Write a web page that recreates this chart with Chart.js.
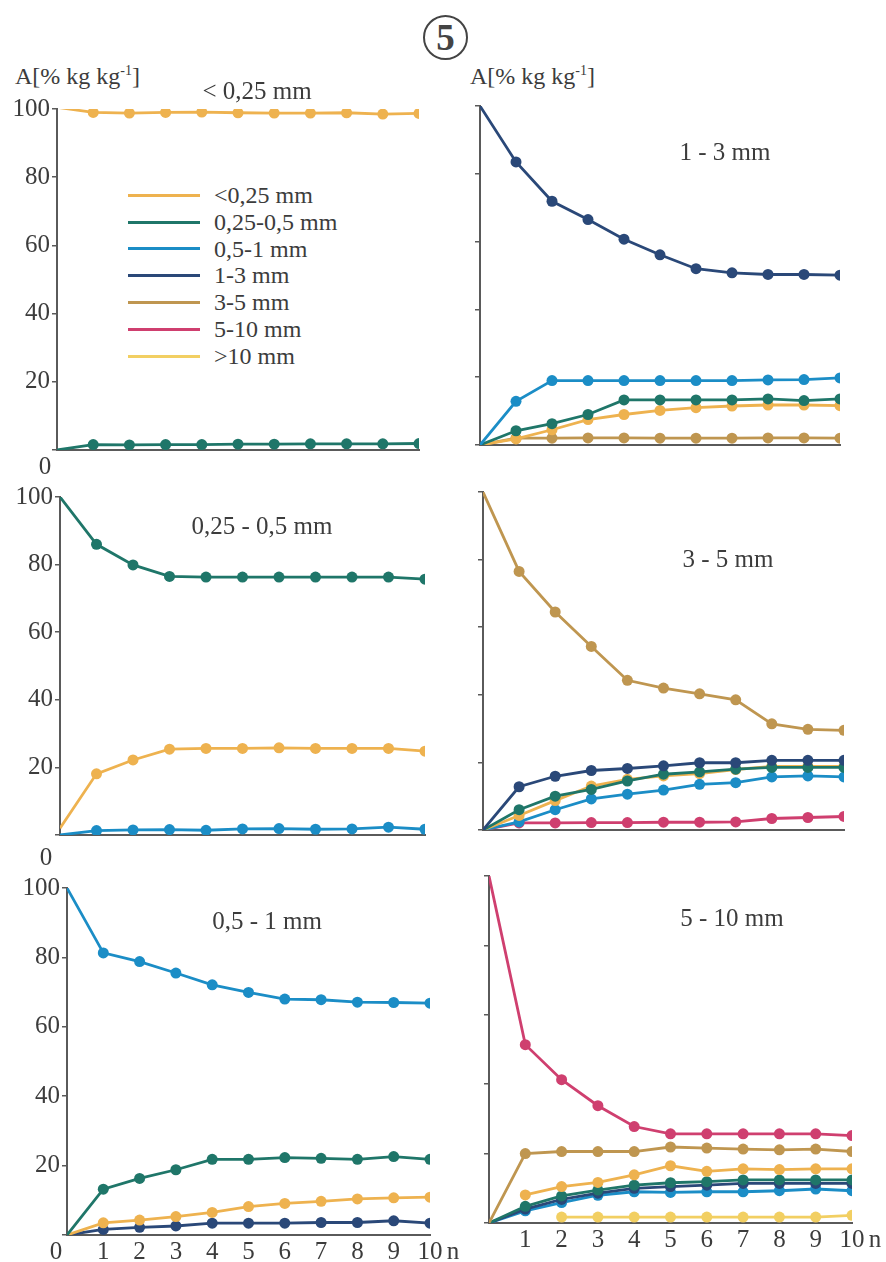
<!DOCTYPE html>
<html lang="pl">
<head>
<meta charset="UTF-8">
<title>Rozpad agregatów</title>
<script src="https://cdn.jsdelivr.net/npm/chart.js@4"></script>
<style>
  body { margin: 0; background: #fff; }
  #page { position: relative; width: 886px; height: 1262px; overflow: hidden;
          font-family: "Liberation Serif", "DejaVu Serif", serif; color: #3c3c3c; }
  #page canvas { position: absolute; }
  .txt { position: absolute; white-space: nowrap; font-size: 25px; line-height: 1;
         transform: translate(-50%, -50%); }
  .ylab { position: absolute; white-space: nowrap; font-size: 24px; line-height: 1; }
  .ylab sup { font-size: 14px; vertical-align: 9px; }
  #num { position: absolute; left: 423px; top: 15px; width: 41px; height: 41px;
         border: 2.5px solid #444; border-radius: 50%; text-align: center;
         font: bold 37px/41px "Liberation Serif", serif; color: #444; }
  #legend { position: absolute; left: 128px; top: 182px; }
  #legend div { height: 26.8px; display: flex; align-items: center; font-size: 24px; }
  #legend span.sw { display: inline-block; width: 72px; height: 3px; margin-right: 14px; }
</style>
</head>
<body>
<div id="page">
  <div id="num">5</div>
  <div class="ylab" style="left:15px; top:64px">A[% kg kg<sup>-1</sup>]</div>
  <div class="ylab" style="left:470px; top:64px">A[% kg kg<sup>-1</sup>]</div>
  <div id="legend"></div>
</div>
<script>
// cycles of wetting / drying
const steps = [0, 1, 2, 3, 4, 5, 6, 7, 8, 9, 10];
const yTicks = [0, 20, 40, 60, 80, 100];

const classNames = ['<0,25 mm', '0,25-0,5 mm', '0,5-1 mm', '1-3 mm', '3-5 mm', '5-10 mm', '>10 mm'];
const classColors = ['#eeb24f', '#1f7669', '#1b8dc6', '#2a4878', '#bf9650', '#cf3f6f', '#f2cf62'];

// panel "< 0,25 mm"
const p1_lt025 = [100.5, 99.0, 98.8, 99.0, 99.1, 98.9, 98.8, 98.8, 98.9, 98.5, 98.7];
const p1_025_05 = [0, 1.6, 1.5, 1.6, 1.6, 1.7, 1.7, 1.8, 1.8, 1.8, 1.9];

// panel "1 - 3 mm"
const p2_1_3 = [100, 83.5, 71.9, 66.5, 60.7, 56.1, 52.0, 50.8, 50.3, 50.3, 50.1];
const p2_05_1 = [0, 12.9, 19.0, 19.0, 19.0, 19.0, 19.0, 19.0, 19.2, 19.3, 19.8];
const p2_025_05 = [0, 4.2, 6.3, 9.0, 13.3, 13.3, 13.3, 13.3, 13.6, 13.1, 13.6];
const p2_lt025 = [0, 1.8, 4.5, 7.5, 9.0, 10.2, 11.0, 11.5, 11.8, 11.8, 11.6];
const p2_3_5 = [0, 2.0, 2.0, 2.1, 2.1, 2.0, 2.0, 2.0, 2.1, 2.1, 2.0];

// panel "0,25 - 0,5 mm"
const p3_025_05 = [100, 86.0, 79.9, 76.5, 76.3, 76.3, 76.3, 76.3, 76.3, 76.3, 75.7];
const p3_lt025 = [2.0, 18.1, 22.2, 25.4, 25.6, 25.6, 25.8, 25.6, 25.6, 25.6, 24.8];
const p3_05_1 = [0, 1.3, 1.5, 1.6, 1.4, 1.8, 1.9, 1.7, 1.8, 2.3, 1.7];

// panel "3 - 5 mm"
const p4_3_5 = [100, 76.5, 64.5, 54.3, 44.3, 42.0, 40.3, 38.5, 31.4, 29.8, 29.5];
const p4_1_3 = [0, 12.8, 15.9, 17.6, 18.2, 19.0, 19.9, 19.9, 20.6, 20.6, 20.6];
const p4_025_05 = [0, 6.0, 10.0, 12.0, 14.5, 16.5, 17.2, 18.0, 18.5, 18.5, 18.5];
const p4_lt025 = [0, 4.3, 8.7, 13.0, 15.0, 16.0, 16.7, 17.9, 18.8, 18.8, 18.8];
const p4_05_1 = [0, 2.4, 6.0, 9.2, 10.6, 11.8, 13.5, 14.0, 15.7, 16.0, 15.7];
const p4_5_10 = [0, 2.1, 2.1, 2.2, 2.2, 2.3, 2.3, 2.4, 3.4, 3.7, 4.0];

// panel "0,5 - 1 mm"
const p5_05_1 = [100, 81.3, 78.8, 75.5, 72.1, 69.9, 68.0, 67.8, 67.1, 67.0, 66.8];
const p5_025_05 = [0, 13.2, 16.3, 18.8, 21.8, 21.8, 22.3, 22.1, 21.8, 22.6, 21.8];
const p5_lt025 = [0, 3.5, 4.3, 5.3, 6.5, 8.2, 9.1, 9.7, 10.4, 10.7, 10.9];
const p5_1_3 = [0, 1.6, 2.2, 2.6, 3.4, 3.4, 3.4, 3.6, 3.6, 4.1, 3.4];

// panel "5 - 10 mm"
const p6_5_10 = [100, 51.4, 41.3, 33.8, 27.8, 25.7, 25.7, 25.7, 25.7, 25.7, 25.2];
const p6_3_5 = [0, 20.0, 20.6, 20.6, 20.6, 21.9, 21.6, 21.3, 21.1, 21.3, 20.6];
const p6_lt025 = [null, 8.1, 10.5, 11.7, 13.9, 16.5, 14.9, 15.6, 15.4, 15.6, 15.6];
const p6_025_05 = [0, 4.8, 7.8, 9.5, 10.9, 11.6, 11.9, 12.4, 12.4, 12.4, 12.4];
const p6_1_3 = [0, 4.0, 6.8, 8.6, 10.0, 10.5, 10.9, 11.4, 11.4, 11.4, 11.4];
const p6_05_1 = [0, 3.5, 5.9, 8.0, 9.0, 8.8, 9.0, 9.0, 9.3, 9.8, 9.3];
const p6_gt10 = [null, null, 1.7, 1.7, 1.7, 1.7, 1.7, 1.7, 1.7, 1.7, 2.2];

// series: [class index, values]
const panels = [
  { title: '< 0,25 mm', series: [[0, p1_lt025], [1, p1_025_05]] },
  { title: '1 - 3 mm', series: [[3, p2_1_3], [2, p2_05_1], [1, p2_025_05], [0, p2_lt025], [4, p2_3_5]] },
  { title: '0,25 - 0,5 mm', series: [[1, p3_025_05], [0, p3_lt025], [2, p3_05_1]] },
  { title: '3 - 5 mm', series: [[4, p4_3_5], [3, p4_1_3], [1, p4_025_05], [0, p4_lt025], [2, p4_05_1], [5, p4_5_10]] },
  { title: '0,5 - 1 mm', series: [[2, p5_05_1], [1, p5_025_05], [0, p5_lt025], [3, p5_1_3]] },
  { title: '5 - 10 mm', series: [[5, p6_5_10], [4, p6_3_5], [0, p6_lt025], [1, p6_025_05], [3, p6_1_3], [2, p6_05_1], [6, p6_gt10]] }
];

// plot area of each panel: x of n=0 / n=10, y of 100 / 0, title centre, offset of the "0" label
const boxes = [
  { l: 57, r: 419, t: 109, b: 457, tx: 257, ty: 90, col: 0, zx: -12, zy: 8 },
  { l: 480, r: 840, t: 106, b: 452, tx: 725, ty: 151, col: 1 },
  { l: 60, r: 425, t: 497, b: 842, tx: 262, ty: 525, col: 0, zx: -14, zy: 14 },
  { l: 483, r: 844, t: 492, b: 837, tx: 728, ty: 558, col: 1 },
  { l: 67, r: 430, t: 888, b: 1235, tx: 267, ty: 920, col: 0, zx: -11, zy: 15 },
  { l: 489, r: 852, t: 876, b: 1223, tx: 732, ty: 917, col: 1 }
];

const axisColor = '#5a5a5a';
const textColor = '#3c3c3c';
const font = { family: '"Liberation Serif", "DejaVu Serif", serif', size: 25 };
const page = document.getElementById('page');

function addText(cls, text, x, y) {
  const d = document.createElement('div');
  d.className = cls;
  d.textContent = text;
  d.style.left = x + 'px';
  d.style.top = y + 'px';
  page.appendChild(d);
}

// legend
const legend = document.getElementById('legend');
classNames.forEach((name, i) => {
  const row = document.createElement('div');
  row.innerHTML = '<span class="sw" style="background:' + classColors[i] + '"></span>';
  row.appendChild(document.createTextNode(name));
  legend.appendChild(row);
});

panels.forEach((p, i) => {
  const b = boxes[i];
  const bottomRow = i >= 4;
  const leftCol = b.col === 0;
  const cx = leftCol ? 0 : 440;
  const cw = leftCol ? 460 : 446;
  const cy = b.t - 30;
  const ch = (b.b - b.t) + 30 + (bottomRow ? 32 : 10);

  const canvas = document.createElement('canvas');
  canvas.width = cw;
  canvas.height = ch;
  canvas.style.left = cx + 'px';
  canvas.style.top = cy + 'px';
  page.appendChild(canvas);

  const datasets = p.series.map(([k, vals]) => ({
    label: classNames[k],
    data: steps.map((s, j) => ({ x: s, y: vals[j] })),
    borderColor: classColors[k],
    backgroundColor: classColors[k],
    borderWidth: 2.8,
    pointRadius: ctx => (ctx.dataIndex === 0 ? 0 : 5.5),
    pointBorderWidth: 0,
    spanGaps: false
  }));

  new Chart(canvas, {
    type: 'line',
    data: { datasets: datasets },
    options: {
      responsive: false,
      animation: false,
      layout: { padding: { top: b.t - cy, right: cx + cw - b.r, left: 0, bottom: 0 } },
      plugins: { legend: { display: false }, tooltip: { enabled: false } },
      scales: {
        x: {
          type: 'linear', min: 0, max: 10,
          afterBuildTicks: s => { s.ticks = steps.map(v => ({ value: v })); },
          ticks: {
            display: bottomRow, font: font, color: textColor, padding: 2,
            maxRotation: 0, autoSkip: false,
            callback: v => (v === 0 ? '' : v)
          },
          grid: { display: false, drawTicks: false },
          border: { display: true, color: axisColor, width: 2 },
          afterFit: s => { s.height = cy + ch - b.b; }
        },
        y: {
          min: 0, max: 100,
          afterBuildTicks: s => { s.ticks = yTicks.map(v => ({ value: v })); },
          ticks: {
            font: font, color: textColor, padding: 2,
            callback: v => (leftCol && v !== 0 ? v : '')
          },
          grid: { drawOnChartArea: false, tickLength: 5, color: axisColor, lineWidth: 1.5 },
          border: { display: true, color: axisColor, width: 2 },
          afterFit: s => { s.width = b.l - cx; }
        }
      }
    }
  });

  addText('txt', p.title, b.tx, b.ty);
  if (leftCol) addText('txt', '0', b.l + b.zx, b.b + b.zy);
  if (bottomRow) addText('txt', 'n', b.r + 23, b.b + 15);
});
</script>
</body>
</html>
